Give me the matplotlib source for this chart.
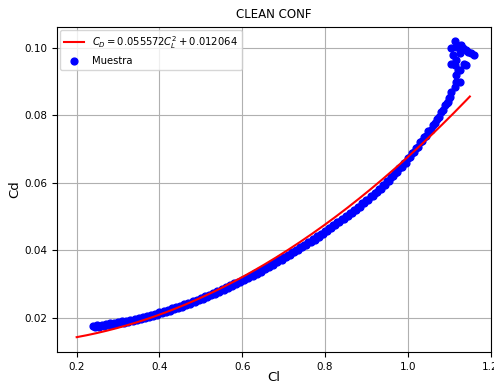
import numpy as np
import matplotlib
matplotlib.use("Agg")
import matplotlib.pyplot as plt

# fitted polar from the legend: CD = a*CL^2 + b
fit_a = 0.055572
fit_b = 0.012064
fit_cl_range = (0.2, 1.15)

cl_sample = [
    0.24, 0.25, 0.26, 0.27, 0.28, 0.29, 0.30, 0.31, 0.32, 0.33,
    0.34, 0.35, 0.36, 0.37, 0.38, 0.39, 0.40, 0.41, 0.42, 0.43,
    0.44, 0.45, 0.46, 0.47, 0.48, 0.49, 0.50, 0.51, 0.52, 0.53,
    0.54, 0.55, 0.56, 0.57, 0.58, 0.59, 0.60, 0.61, 0.62, 0.63,
    0.64, 0.65, 0.66, 0.67, 0.68, 0.69, 0.70, 0.71, 0.72, 0.73,
    0.74, 0.75, 0.76, 0.77, 0.78, 0.79, 0.80, 0.81, 0.82, 0.83,
    0.84, 0.85, 0.86, 0.87, 0.88, 0.89, 0.90, 0.91, 0.92, 0.93,
    0.94, 0.95, 0.96, 0.97, 0.98, 0.99, 1.00, 1.01, 1.02, 1.03,
    1.04, 1.05, 1.06, 1.07, 1.08, 1.09, 1.10,
]
cd_sample = [
    0.0176, 0.0178, 0.0180, 0.0182, 0.0184, 0.0186, 0.0188, 0.0190, 0.0192, 0.0195,
    0.0197, 0.0200, 0.0203, 0.0206, 0.0209, 0.0212, 0.0216, 0.0220, 0.0224, 0.0228,
    0.0232, 0.0236, 0.0240, 0.0245, 0.0249, 0.0254, 0.0259, 0.0264, 0.0269, 0.0274,
    0.0280, 0.0285, 0.0291, 0.0296, 0.0302, 0.0307, 0.0313, 0.0319, 0.0325, 0.0332,
    0.0338, 0.0345, 0.0352, 0.0359, 0.0366, 0.0373, 0.0380, 0.0387, 0.0395, 0.0402,
    0.0410, 0.0417, 0.0425, 0.0433, 0.0441, 0.0449, 0.0457, 0.0466, 0.0474, 0.0483,
    0.0492, 0.0501, 0.0510, 0.0520, 0.0529, 0.0539, 0.0549, 0.0560, 0.0571, 0.0582,
    0.0593, 0.0604, 0.0617, 0.0630, 0.0644, 0.0658, 0.0672, 0.0688, 0.0704, 0.0720,
    0.0736, 0.0752, 0.0771, 0.0790, 0.0810, 0.0830, 0.0850,
]

# lower part of the band
cl_lower = [
    0.245, 0.255, 0.265, 0.275, 0.285, 0.295, 0.305, 0.315, 0.325, 0.335,
    0.345, 0.355, 0.365, 0.375, 0.385, 0.395, 0.405, 0.415, 0.425, 0.435,
    0.445, 0.455, 0.465, 0.475, 0.485, 0.495, 0.505, 0.515, 0.525, 0.535,
    0.545, 0.555, 0.565, 0.575, 0.585, 0.595, 0.605, 0.615, 0.625, 0.635,
    0.645, 0.655, 0.665, 0.675, 0.685, 0.695, 0.705, 0.715, 0.725, 0.735,
    0.745, 0.755, 0.765, 0.775, 0.785, 0.795, 0.805, 0.815, 0.825, 0.835,
    0.845, 0.855, 0.865, 0.875, 0.885, 0.895, 0.905, 0.915, 0.925, 0.935,
    0.945, 0.955, 0.965, 0.975, 0.985, 0.995, 1.005, 1.015, 1.025, 1.035,
    1.045, 1.055, 1.065, 1.075, 1.085, 1.095,
]
cd_lower = [
    0.0172, 0.0174, 0.0176, 0.0178, 0.0180, 0.0182, 0.0184, 0.0186, 0.0189, 0.0191,
    0.0194, 0.0197, 0.0200, 0.0203, 0.0206, 0.0209, 0.0213, 0.0217, 0.0221, 0.0225,
    0.0229, 0.0233, 0.0238, 0.0242, 0.0247, 0.0252, 0.0257, 0.0262, 0.0267, 0.0272,
    0.0278, 0.0283, 0.0289, 0.0294, 0.0300, 0.0305, 0.0311, 0.0317, 0.0324, 0.0330,
    0.0337, 0.0344, 0.0351, 0.0358, 0.0365, 0.0372, 0.0379, 0.0386, 0.0394, 0.0401,
    0.0409, 0.0416, 0.0424, 0.0432, 0.0440, 0.0448, 0.0457, 0.0465, 0.0474, 0.0483,
    0.0492, 0.0501, 0.0510, 0.0520, 0.0529, 0.0539, 0.0550, 0.0561, 0.0572, 0.0583,
    0.0594, 0.0606, 0.0619, 0.0632, 0.0646, 0.0660, 0.0675, 0.0691, 0.0707, 0.0723,
    0.0739, 0.0757, 0.0776, 0.0795, 0.0815, 0.0835,
]

# scattered points near stall
cl_stall = [
    1.097, 1.101, 1.105, 1.113, 1.117, 1.125, 1.117, 1.121, 1.125,
    1.137, 1.141, 1.113, 1.105, 1.117, 1.109, 1.125, 1.160, 1.153,
    1.145, 1.141, 1.133, 1.129, 1.117, 1.105, 1.113,
]
cd_stall = [
    0.0840, 0.0855, 0.0870, 0.0884, 0.0899, 0.0899, 0.0919, 0.0934, 0.0934,
    0.0953, 0.0949, 0.0949, 0.0953, 0.0964, 0.0978, 0.0983, 0.0978, 0.0983,
    0.0988, 0.0993, 0.0998, 0.1008, 0.1003, 0.0998, 0.1021,
]

fit_label = r"$C_D = 0.055572C_L^2 + 0.012064$"

cl_fit = np.linspace(fit_cl_range[0], fit_cl_range[1], 200)
cd_fit = fit_a * cl_fit ** 2 + fit_b

cl_all = cl_sample + cl_lower + cl_stall
cd_all = cd_sample + cd_lower + cd_stall

fig = plt.figure(figsize=(4.94, 3.83), dpi=100)
ax = fig.add_axes([0.115, 0.081, 0.878, 0.849])

ax.plot(cl_fit, cd_fit, color="red", lw=1.5, label=fit_label, zorder=3)
ax.scatter(cl_all, cd_all, s=24, color="blue", label="Muestra", zorder=2)

ax.set_xlim(0.152, 1.2)
ax.set_ylim(0.0099, 0.1062)
ax.set_title("CLEAN CONF", fontsize=8.5)
ax.set_xlabel("Cl", fontsize=9.5, labelpad=-0.5)
ax.set_ylabel("Cd", fontsize=9.5, labelpad=2)
ax.tick_params(labelsize=7.5)
ax.grid(True)
ax.legend(loc="upper left", fontsize=7.2, borderaxespad=0.3)

fig.savefig("out.png", dpi=100)
